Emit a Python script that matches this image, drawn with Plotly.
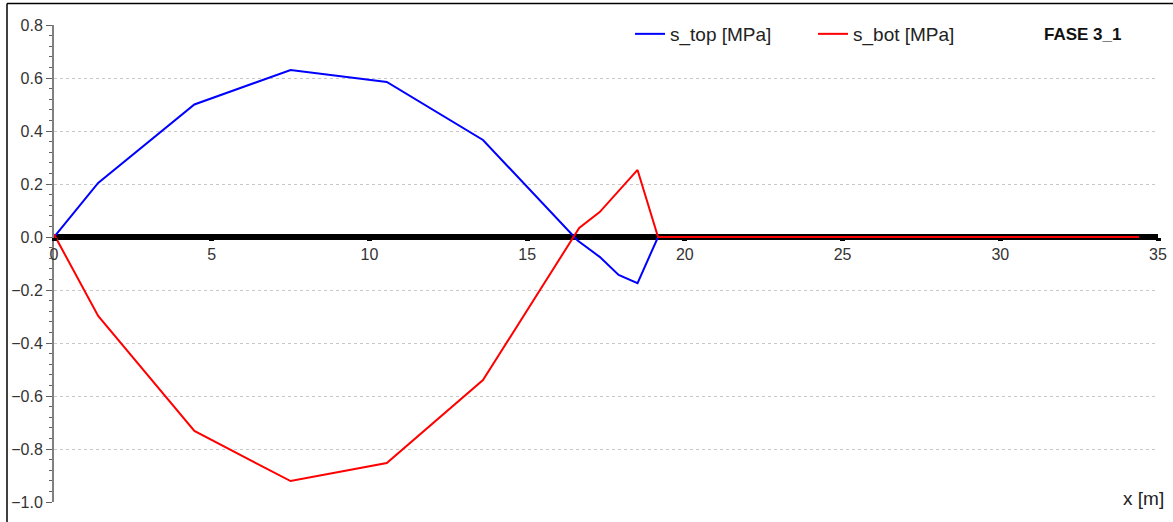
import plotly.graph_objects as go

# Data
x_top = [0, 1.4, 4.45, 7.5, 10.55, 13.6, 16.6, 17.3, 17.9, 18.5, 19.15, 34.4]
s_top = [0, 0.204, 0.500, 0.630, 0.585, 0.366, -0.013, -0.075, -0.143, -0.174, 0.0, 0.0]

x_bot = [0, 1.4, 4.45, 7.5, 10.55, 13.6, 16.65, 17.3, 18.5, 19.15, 34.4]
s_bot = [0.01, -0.298, -0.732, -0.921, -0.853, -0.540, 0.034, 0.094, 0.253, 0.0, 0.0]

beam_x = [0, 35]
beam_y = [0, 0]

W, H = 1173, 522
ml, mr, mt, mb = 54, 15, 25, 20
pw, ph = W - ml - mr, H - mt - mb

fig = go.Figure()
fig.add_trace(go.Scatter(x=beam_x, y=beam_y, mode="lines",
                         line=dict(color="black", width=6), showlegend=False,
                         hoverinfo="skip"))
fig.add_trace(go.Scatter(x=x_top, y=s_top, mode="lines", name="s_top [MPa]",
                         line=dict(color="#0000ff", width=2)))
fig.add_trace(go.Scatter(x=x_bot, y=s_bot, mode="lines", name="s_bot [MPa]",
                         line=dict(color="#ff0000", width=2)))

y0frac = (0 - (-1.0)) / 1.8

fig.update_layout(
    width=W, height=H,
    margin=dict(l=ml, r=mr, t=mt, b=mb, pad=0, autoexpand=False),
    paper_bgcolor="white", plot_bgcolor="white",
    font=dict(family="Liberation Sans, Arial, sans-serif", size=16, color="#333333"),
    legend=dict(orientation="h", x=(630 - ml) / pw, y=1 - (34 - mt) / ph,
                xanchor="left", yanchor="middle", bgcolor="rgba(0,0,0,0)",
                font=dict(size=19, color="#222222"), entrywidth=138,
                itemwidth=30),
    xaxis=dict(range=[0, 35], dtick=5, tick0=0, showgrid=False, zeroline=False,
               showline=False, anchor="free", position=y0frac, automargin=False,
               ticks="outside", ticklen=3, tickwidth=5, tickcolor="black",
               tickfont=dict(size=16, color="#333333")),
    yaxis=dict(range=[-1.0, 0.8], dtick=0.2, tick0=0, tickformat=".1f",
               automargin=False,
               showgrid=True, gridcolor="#c8c8c8", griddash="dot", gridwidth=1,
               zeroline=False, showline=True, linecolor="#808080", linewidth=2,
               ticks="outside", ticklen=6, tickwidth=1, tickcolor="#606060",
               minor=dict(dtick=0.04, ticks="outside", ticklen=3, tickcolor="#606060",
                          showgrid=False),
               tickfont=dict(size=16, color="#333333")),
    annotations=[
        dict(text="<b>FASE 3_1</b>", x=(1083 - ml) / pw, y=1 - (34 - mt) / ph,
             xref="paper", yref="paper", showarrow=False,
             xanchor="center", yanchor="middle",
             font=dict(size=17, color="#111111")),
        dict(text="x [m]", x=(1143 - ml) / pw, y=1 - (498 - mt) / ph,
             xref="paper", yref="paper", showarrow=False,
             xanchor="center", yanchor="middle",
             font=dict(size=19, color="#222222")),
    ],
    shapes=[
        dict(type="line", xref="paper", yref="paper",
             x0=(7 - ml) / pw, x1=(7 - ml) / pw, y0=-0.1, y1=1 + (mt - 3.5) / ph,
             line=dict(color="black", width=1.5)),
        dict(type="line", xref="paper", yref="paper",
             x0=(7 - ml) / pw, x1=1.05, y0=1 + (mt - 3.5) / ph, y1=1 + (mt - 3.5) / ph,
             line=dict(color="black", width=1.5)),
    ],
)

fig.write_html("out.html", config={"displayModeBar": False},
               post_script="document.body.style.margin='0';document.body.style.overflow='hidden';")
